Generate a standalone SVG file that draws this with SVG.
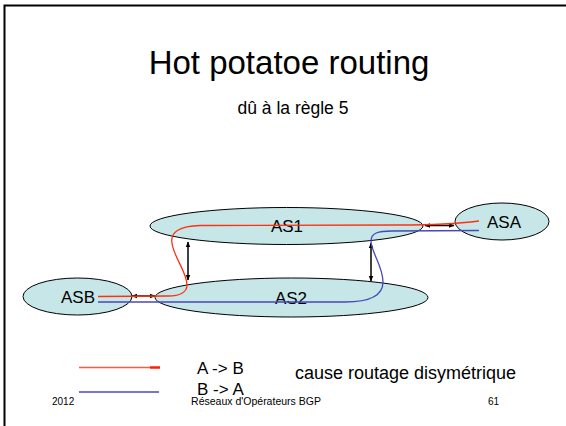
<svg xmlns="http://www.w3.org/2000/svg" width="566" height="426" viewBox="0 0 566 426">
<style>
text{font-family:"Liberation Sans",Arial,sans-serif;fill:#000}
.as{fill:#c6e6e8;stroke:#000;stroke-width:1}
.lbl{font-size:17px;text-anchor:middle}
.link{stroke:#000;stroke-width:1.5;fill:none;marker-start:url(#ah);marker-end:url(#ah)}
.red{stroke:#ff3010;stroke-width:1.3;fill:none}
.blue{stroke:#4848b8;stroke-width:1.3;fill:none}
</style>
<defs>
<marker id="ah" viewBox="0 0 10 10" refX="9" refY="5" markerWidth="6" markerHeight="6" markerUnits="userSpaceOnUse" orient="auto-start-reverse">
<path d="M0,1 L10,5 L0,9 Z" fill="#000"/>
</marker>
</defs>
<rect width="566" height="426" fill="#fff"/>
<path d="M4.5,426 V5.5 H566" fill="none" stroke="#000" stroke-width="2"/>
<text x="289" y="74" font-size="33" text-anchor="middle">Hot potatoe routing</text>
<text x="293" y="114" font-size="17.5" text-anchor="middle">dû à la règle 5</text>
<g id="AS1"><ellipse class="as" cx="286.5" cy="226" rx="136.5" ry="18.5"/><text class="lbl" x="287" y="232">AS1</text></g>
<g id="AS2"><ellipse class="as" cx="291.5" cy="297.5" rx="136.5" ry="19.5"/><text class="lbl" x="291" y="304">AS2</text></g>
<g id="ASB"><ellipse class="as" cx="77.5" cy="296.5" rx="54.5" ry="18.5"/><text class="lbl" x="78" y="303">ASB</text></g>
<g id="ASA"><ellipse class="as" cx="502" cy="221.5" rx="47" ry="18.5"/><text class="lbl" x="504" y="228">ASA</text></g>
<g id="connectors">
<line class="link" x1="132" y1="296" x2="155" y2="296"/>
<line class="link" x1="188" y1="242" x2="188" y2="280"/>
<line class="link" x1="371" y1="243" x2="371" y2="281"/>
<line class="link" x1="425" y1="225.5" x2="454" y2="225.5"/>
<path class="red" d="M479,221 C455,224 430,225 400,225 L200,225.5 C180,226 170,232 172,243 C174,258 187,272 187,285 C187,292 180,296 168,296 L98,296.5"/>
<path class="blue" d="M98,302 L345,302 C368,302 383,296 383,282 C383,266 371,252 371,241 C371,233 378,231 392,231 L479,230.5"/>
</g>
<g id="legend">
<line x1="79" y1="367.5" x2="150" y2="367.5" stroke="#ff5a3a" stroke-width="1.5"/>
<line x1="150" y1="367.5" x2="160" y2="367.5" stroke="#ff2000" stroke-width="2.5"/>
<line x1="79" y1="392" x2="159" y2="392" stroke="#4848b8" stroke-width="1.3"/>
<text x="197" y="374" font-size="17">A -&gt; B</text>
<text x="197" y="395" font-size="17">B -&gt; A</text>
<text x="295" y="379" font-size="18">cause routage disymétrique</text>
</g>
<text x="52" y="405" font-size="10">2012</text>
<text x="256" y="405" font-size="10.5" text-anchor="middle">Réseaux d'Opérateurs BGP</text>
<text x="488" y="405" font-size="10">61</text>
</svg>
